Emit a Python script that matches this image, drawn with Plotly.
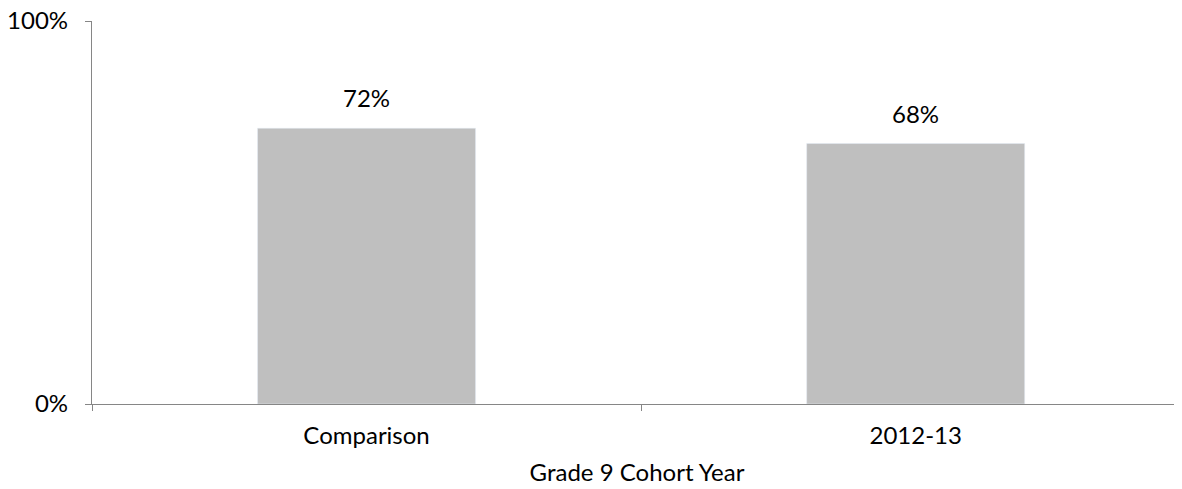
import plotly.graph_objects as go

categories = ["Comparison", "2012-13"]
values = [0.72, 0.68]
labels = ["72%", "68%"]
y_ticks = [0, 1]
y_tick_labels = ["0%", "100%"]

bar_color = "#BFBFBF"
axis_color = "#868686"
font = dict(family="Lato, Open Sans, sans-serif", size=24, color="#000000")

fig = go.Figure(data=[go.Bar(
    x=categories,
    y=values,
    width=0.397,
    marker_color=bar_color,
    hoverinfo="skip",
)])

# etiquetas acima das barras
for c, v, t in zip(categories, values, labels):
    fig.add_annotation(x=c, y=v, text=t, showarrow=False,
                       yanchor="bottom", yshift=14, font=font)

# a página tem 8px de margem no body, por isso o tamanho fica um pouco menor
fig.update_layout(
    width=1174, height=481,
    plot_bgcolor="white",
    paper_bgcolor="white",
    font=font,
    showlegend=False,
    margin=dict(l=84, r=0, t=13, b=85),
    xaxis=dict(
        title=dict(text="Grade 9 Cohort Year", standoff=16, font=dict(size=24)),
        range=[-0.5, 1.485],
        automargin=False,
        showline=True, linecolor=axis_color, linewidth=1.3,
        ticks="outside", tickson="boundaries", ticklen=6,
        tickcolor=axis_color, showgrid=False,
        ticklabelstandoff=10,
    ),
    yaxis=dict(
        range=[0, 1],
        automargin=False,
        tickvals=y_ticks, ticktext=y_tick_labels,
        showline=True, linecolor=axis_color, linewidth=1.3,
        ticks="outside", ticklen=6, tickcolor=axis_color,
        showgrid=False, zeroline=False,
        ticklabelstandoff=12,
        ticklabeloverflow="allow",
    ),
)

fig.write_html("out.html")
